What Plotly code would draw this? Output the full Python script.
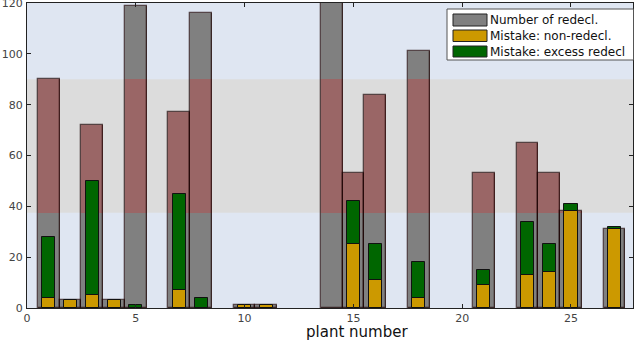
import plotly.graph_objects as go

# ---- data ----
plants = [1, 2, 3, 4, 5, 7, 8, 10, 11, 14, 15, 16, 18, 21, 23, 24, 25, 27]
n_redecl = [90, 3, 72, 3, 119, 77, 116, 1, 1, 122, 53, 84, 101, 53, 65, 53, 38, 31]
mistake_non = [4, 3, 5, 3, 0, 7, 0, 1, 1, 0, 25, 11, 4, 9, 13, 14, 38, 31]
mistake_excess = [24, 0, 45, 0, 1, 38, 4, 0, 0, 0, 17, 14, 14, 6, 21, 11, 3, 1]
band = [37.5, 90]  # highlighted range

W, H = 634, 343
L, R, T, B = 27, 1, 3, 35
pw, ph = W - L - R, H - T - B


def px(x):
    return (x - L) / pw


def py(y):
    return (H - B - y) / ph


GRAY = "#808080"
RED = "#9a6666"
YEL = "#cc9900"
GRN = "#006600"

# segments of gray bars inside the band
mid_base = [band[0] for v in n_redecl]
mid_h = [max(0, min(v, band[1]) - band[0]) for v in n_redecl]
non_lw = [1 if v > 0 else 0 for v in mistake_non]
exc_lw = [1 if v > 0 else 0 for v in mistake_excess]

fig = go.Figure()
fig.add_bar(x=plants, y=n_redecl, width=1.0, marker=dict(color=GRAY, line=dict(width=0)),
            showlegend=False, hoverinfo="skip")
fig.add_bar(x=plants, y=mid_h, base=mid_base, width=1.0, marker=dict(color=RED, line=dict(width=0)),
            showlegend=False, hoverinfo="skip")
fig.add_bar(x=plants, y=n_redecl, width=1.0,
            marker=dict(color="rgba(0,0,0,0)", line=dict(width=1.3, color="rgba(25,0,0,0.7)")),
            showlegend=False, hoverinfo="skip")
fig.add_bar(x=plants, y=mistake_non, width=0.6,
            marker=dict(color=YEL, line=dict(width=non_lw, color="#111")),
            showlegend=False, hoverinfo="skip")
fig.add_bar(x=plants, y=mistake_excess, base=mistake_non, width=0.6,
            marker=dict(color=GRN, line=dict(width=exc_lw, color="#111")),
            showlegend=False, hoverinfo="skip")

shapes = [dict(type="rect", xref="paper", x0=0, x1=1, yref="y", y0=band[0], y1=band[1],
               fillcolor="#dcdcdc", line=dict(width=0), layer="below")]

# custom legend
legend_labels = ["Number of redecl.", "Mistake: non-redecl.", "Mistake: excess redecl"]
legend_colors = [GRAY, YEL, GRN]
shapes.append(dict(type="rect", xref="paper", yref="paper", x0=px(447), x1=px(633.5),
                   y0=py(60), y1=py(9), fillcolor="white", line=dict(color="#555", width=1)))
annotations = []
rows = [(14, 26), (30, 41.5), (46, 57)]
for (ya, yb), lab, col in zip(rows, legend_labels, legend_colors):
    shapes.append(dict(type="rect", xref="paper", yref="paper", x0=px(453), x1=px(487),
                       y0=py(yb), y1=py(ya), fillcolor=col, line=dict(color="#222", width=1)))
    annotations.append(dict(xref="paper", yref="paper", x=px(488), y=py((ya + yb) / 2),
                            text=lab, showarrow=False, xanchor="left", yanchor="middle",
                            font=dict(family="DejaVu Sans", size=12, color="#111")))

annotations.append(dict(xref="paper", yref="paper", x=px(357), y=py(332), text="plant number",
                        showarrow=False, xanchor="center", yanchor="middle",
                        font=dict(family="DejaVu Sans", size=15, color="#111")))

axis_common = dict(showline=True, linecolor="#222", linewidth=1, mirror="ticks", ticks="inside",
                   ticklen=4, tickcolor="#222", showgrid=False, zeroline=False, automargin=False,
                   ticklabeloverflow="allow",
                   tickfont=dict(family="DejaVu Sans", size=11, color="#444"))

fig.update_layout(
    width=W, height=H, margin=dict(l=L, r=R, t=T, b=B, autoexpand=False),
    paper_bgcolor="white", plot_bgcolor="#dfe6f2",
    barmode="overlay", bargap=0,
    xaxis=dict(range=[0, 27.85], tickvals=[0, 5, 10, 15, 20, 25], **axis_common),
    yaxis=dict(range=[0, 120], tickvals=[0, 20, 40, 60, 80, 100, 120], ticklabelstandoff=1,
               **axis_common),
    shapes=shapes, annotations=annotations, showlegend=False,
)

fig.write_html("out.html", config={"displayModeBar": False},
               post_script="document.body.style.margin='0px';document.body.style.overflow='hidden';")
